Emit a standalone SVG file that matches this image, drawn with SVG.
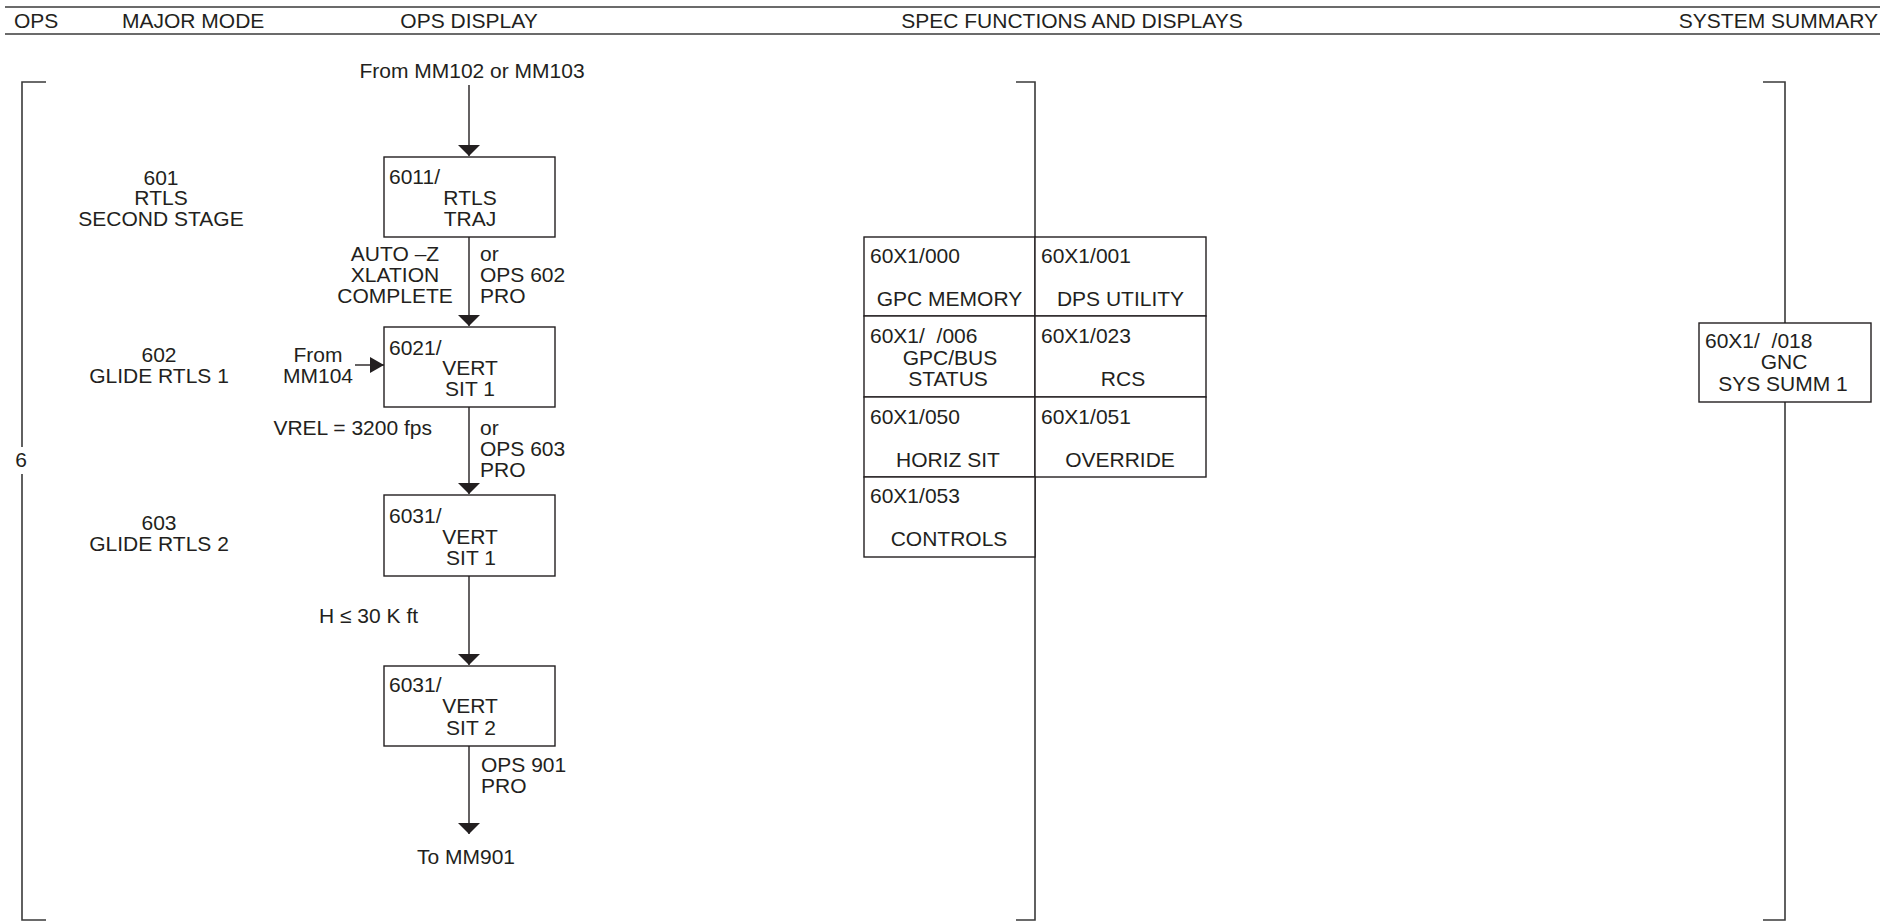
<svg xmlns="http://www.w3.org/2000/svg" width="1902" height="921" viewBox="0 0 1902 921">
<style>
text{font-family:"Liberation Sans",Arial,sans-serif;font-size:21px;fill:#231f20}
.c{text-anchor:middle}
.e{text-anchor:end}
.p{white-space:pre}
.box{fill:#fff;stroke:#231f20;stroke-width:1.4}
.ln{fill:none;stroke:#231f20;stroke-width:1.4}
.br{fill:none;stroke:#3a3a3a;stroke-width:1.6}
.hd{fill:none;stroke:#3a3a3a;stroke-width:1.6}
</style>
<defs>
<marker id="ah" viewBox="0 0 11 22" refX="11" refY="11" markerWidth="11" markerHeight="22" markerUnits="userSpaceOnUse" orient="auto">
<path d="M0,0 L11,11 L0,22 z" fill="#231f20"/>
</marker>
<marker id="ahs" viewBox="0 0 14 16" refX="14" refY="8" markerWidth="14" markerHeight="16" markerUnits="userSpaceOnUse" orient="auto">
<path d="M0,0 L14,8 L0,16 z" fill="#231f20"/>
</marker>
</defs>

<g id="header">
<line class="hd" x1="5" y1="7" x2="1880" y2="7"/>
<line class="hd" x1="5" y1="34" x2="1880" y2="34"/>
<text x="14" y="28">OPS</text>
<text x="122" y="28">MAJOR MODE</text>
<text class="c" x="469" y="28">OPS DISPLAY</text>
<text class="c" x="1072" y="28">SPEC FUNCTIONS AND DISPLAYS</text>
<text class="e" x="1878" y="28">SYSTEM SUMMARY</text>
</g>

<g id="brackets">
<path class="br" d="M46,82 H22 V447 M22,474 V920 H46"/>
<text class="c" x="21" y="467">6</text>
<path class="br" d="M1016,82 H1035 V920 H1016"/>
<path class="br" d="M1763,82 H1785 V323 M1785,402 V920 H1763"/>
</g>

<g id="modes">
<text class="c" x="161" y="185">601</text>
<text class="c" x="161" y="205">RTLS</text>
<text class="c" x="161" y="226">SECOND STAGE</text>
<text class="c" x="159" y="362">602</text>
<text class="c" x="159" y="383">GLIDE RTLS 1</text>
<text class="c" x="159" y="530">603</text>
<text class="c" x="159" y="551">GLIDE RTLS 2</text>
</g>

<g id="connectors">
<line class="ln" x1="469" y1="85" x2="469" y2="156" marker-end="url(#ah)"/>
<line class="ln" x1="469" y1="237" x2="469" y2="326" marker-end="url(#ah)"/>
<line class="ln" x1="469" y1="407" x2="469" y2="494" marker-end="url(#ah)"/>
<line class="ln" x1="469" y1="576" x2="469" y2="665" marker-end="url(#ah)"/>
<line class="ln" x1="469" y1="746" x2="469" y2="834" marker-end="url(#ah)"/>
<line class="ln" x1="355" y1="365" x2="384" y2="365" marker-end="url(#ahs)"/>
</g>

<g id="flow-labels">
<text class="c" x="472" y="78">From MM102 or MM103</text>
<text class="c" x="395" y="261">AUTO –Z</text>
<text class="c" x="395" y="282">XLATION</text>
<text class="c" x="395" y="303">COMPLETE</text>
<text x="480" y="261">or</text>
<text x="480" y="282">OPS 602</text>
<text x="480" y="303">PRO</text>
<text class="c" x="318" y="362">From</text>
<text class="c" x="318" y="383">MM104</text>
<text class="e" x="432" y="435">VREL = 3200 fps</text>
<text x="480" y="435">or</text>
<text x="480" y="456">OPS 603</text>
<text x="480" y="477">PRO</text>
<text x="319" y="623">H ≤ 30 K ft</text>
<text x="481" y="772">OPS 901</text>
<text x="481" y="793">PRO</text>
<text class="c" x="466" y="864">To MM901</text>
</g>

<g id="box-6011">
<rect class="box" x="384" y="157" width="171" height="80"/>
<text x="389" y="184">6011/</text>
<text class="c" x="470" y="205">RTLS</text>
<text class="c" x="470" y="226">TRAJ</text>
</g>

<g id="box-6021">
<rect class="box" x="384" y="327" width="171" height="80"/>
<text x="389" y="355">6021/</text>
<text class="c" x="470" y="375">VERT</text>
<text class="c" x="470" y="396">SIT 1</text>
</g>

<g id="box-6031-1">
<rect class="box" x="384" y="495" width="171" height="81"/>
<text x="389" y="523">6031/</text>
<text class="c" x="470" y="544">VERT</text>
<text class="c" x="471" y="565">SIT 1</text>
</g>

<g id="box-6031-2">
<rect class="box" x="384" y="666" width="171" height="80"/>
<text x="389" y="692">6031/</text>
<text class="c" x="470" y="713">VERT</text>
<text class="c" x="471" y="735">SIT 2</text>
</g>

<g id="spec-000">
<rect class="box" x="864" y="237" width="171" height="79"/>
<text x="870" y="263">60X1/000</text>
<text class="c" x="949.5" y="306">GPC MEMORY</text>
</g>
<g id="spec-001">
<rect class="box" x="1035" y="237" width="171" height="79"/>
<text x="1041" y="263">60X1/001</text>
<text class="c" x="1120.5" y="306">DPS UTILITY</text>
</g>
<g id="spec-006">
<rect class="box" x="864" y="316" width="171" height="81"/>
<text class="p" x="870" y="343">60X1/  /006</text>
<text class="c" x="950" y="365">GPC/BUS</text>
<text class="c" x="948" y="386">STATUS</text>
</g>
<g id="spec-023">
<rect class="box" x="1035" y="316" width="171" height="81"/>
<text x="1041" y="343">60X1/023</text>
<text class="c" x="1123" y="386">RCS</text>
</g>
<g id="spec-050">
<rect class="box" x="864" y="397" width="171" height="80"/>
<text x="870" y="424">60X1/050</text>
<text class="c" x="948" y="467">HORIZ SIT</text>
</g>
<g id="spec-051">
<rect class="box" x="1035" y="397" width="171" height="80"/>
<text x="1041" y="424">60X1/051</text>
<text class="c" x="1120" y="467">OVERRIDE</text>
</g>
<g id="spec-053">
<rect class="box" x="864" y="477" width="171" height="80"/>
<text x="870" y="503">60X1/053</text>
<text class="c" x="949" y="546">CONTROLS</text>
</g>

<g id="sys-018">
<rect class="box" x="1699" y="323" width="172" height="79"/>
<text class="p" x="1705" y="348">60X1/  /018</text>
<text class="c" x="1784" y="369">GNC</text>
<text class="c" x="1783" y="391">SYS SUMM 1</text>
</g>
</svg>
